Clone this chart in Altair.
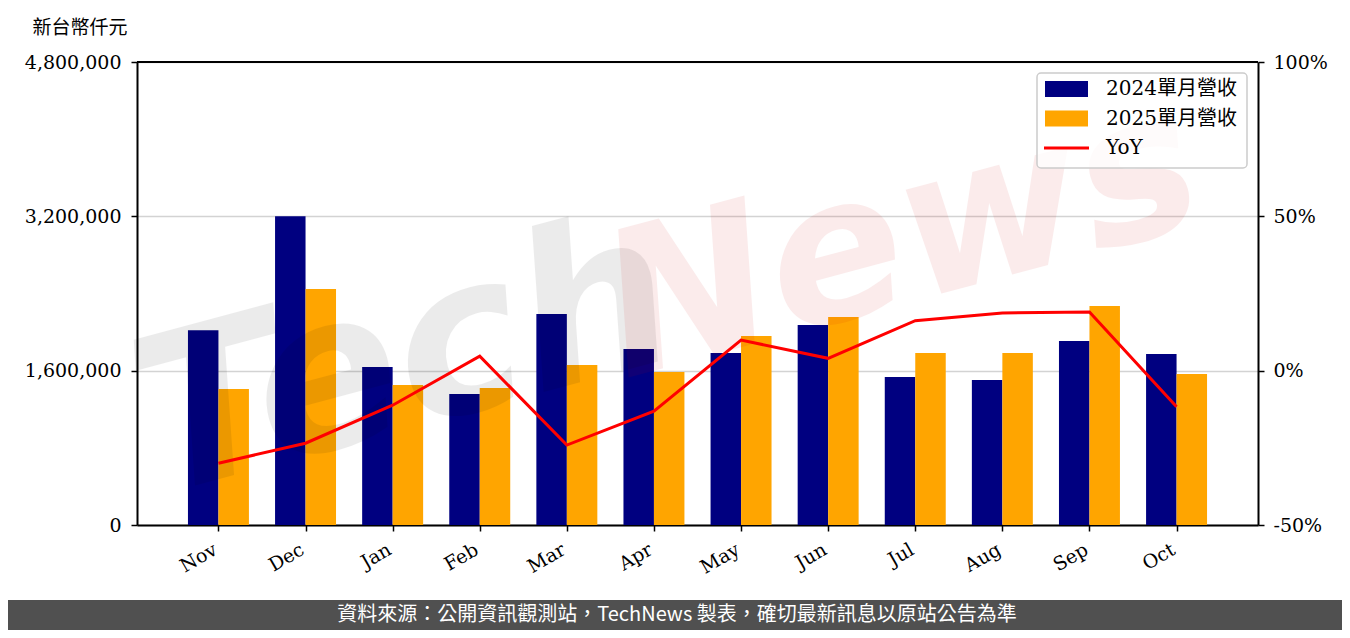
import json
import altair as alt
import pandas as pd

# ---------------- data ----------------
months = ["Nov", "Dec", "Jan", "Feb", "Mar", "Apr", "May", "Jun", "Jul", "Aug", "Sep", "Oct"]
rev_2024 = [2020000, 3200000, 1638000, 1358000, 2187000, 1825000,
            1783000, 2073000, 1534000, 1503000, 1908000, 1773000]
rev_2025 = [1410000, 2447000, 1451000, 1420000, 1659000, 1586000,
            1959000, 2156000, 1783000, 1783000, 2270000, 1565000]
yoy_pct = [-30.0, -23.5, -11.2, 4.7, -24.1, -13.1, 9.9, 4.0, 16.2, 18.7, 19.0, -11.7]
series_names = ["2024單月營收", "2025單月營收", "YoY"]
series_colors = ["#000080", "#FFA500", "#FF0000"]
left_ticks = [0, 1600000, 3200000, 4800000]
right_ticks = [-50, 0, 50, 100]
unit_title = "新台幣仟元"
footer_text = "資料來源：公開資訊觀測站，TechNews 製表，確切最新訊息以原站公告為準"
watermark_words = ["Tech", "News"]

# ---------------- tables ----------------
rows = []
for i, m in enumerate(months):
    rows.append({"idx": i, "month": m, "series": series_names[0], "value": rev_2024[i]})
    rows.append({"idx": i, "month": m, "series": series_names[1], "value": rev_2025[i]})
bar_df = pd.DataFrame(rows)
line_df = pd.DataFrame({"idx": list(range(len(months))), "month": months, "yoy": yoy_pct})
one = pd.DataFrame({"k": [0]})

W, H = 1121, 463
PAD_L, PAD_T = 129, 54
SVG_W, SVG_H = 1334, 622
SERIF = "DejaVu Serif, Noto Sans CJK TC"
CJK = "Noto Sans CJK TC"

x_scale = alt.Scale(domain=[-0.935, 11.935], nice=False, zero=False)
label_expr = json.dumps(months) + "[datum.value]"

x_axis = alt.Axis(values=list(range(len(months))), labelExpr=label_expr, labelAngle=330,
                  labelAlign="right", labelBaseline="top", labelPadding=9, labelOffset=-8,
                  labelFont=SERIF, labelFontSize=19, labelColor="black",
                  tickSize=6, tickColor="black", tickWidth=1.5, grid=False,
                  domainColor="black", domainWidth=2, title=None, labelOverlap=False)

left_axis = alt.Axis(values=left_ticks, format=",.0f", orient="left",
                     labelFont=SERIF, labelFontSize=19, labelColor="black", labelPadding=10,
                     tickSize=6, tickColor="black", tickWidth=1.5,
                     domainColor="black", domainWidth=2,
                     grid=True, gridColor="#d3d3d3", gridWidth=1.5,
                     title=unit_title, titleAngle=0, titleAlign="left", titleBaseline="middle",
                     titleX=-105, titleY=-35, titleFont=CJK, titleFontSize=19,
                     titleFontWeight="normal", titleColor="black", labelOverlap=False)

right_axis = alt.Axis(values=right_ticks, labelExpr="datum.value + '%'", orient="right",
                      labelFont=SERIF, labelFontSize=19, labelColor="black", labelPadding=9,
                      tickSize=6, tickColor="black", tickWidth=1.5,
                      domainColor="black", domainWidth=2, grid=False, title=None,
                      labelOverlap=False)

bars = alt.Chart(bar_df).transform_calculate(
    x0="datum.series == '%s' ? datum.idx - 0.35 : datum.idx" % series_names[0],
    x1="datum.series == '%s' ? datum.idx : datum.idx + 0.35" % series_names[0],
).mark_rect().encode(
    x=alt.X("x0:Q", scale=x_scale, axis=x_axis),
    x2="x1:Q",
    y=alt.Y("value:Q", scale=alt.Scale(domain=[0, 4800000], nice=False, padding=0), axis=left_axis),
    y2=alt.datum(0),
    color=alt.Color("series:N", scale=alt.Scale(domain=series_names[:2], range=series_colors[:2]),
                    legend=None),
    tooltip=["month", "series", "value"],
)

line = alt.Chart(line_df).mark_line(color=series_colors[2], strokeWidth=3).encode(
    x=alt.X("idx:Q", scale=x_scale, axis=x_axis),
    y=alt.Y("yoy:Q", scale=alt.Scale(domain=[-50, 100], nice=False, zero=False, padding=0),
            axis=right_axis),
)

# top frame line (matplotlib spine)
top_spine = alt.Chart(one).mark_rule(color="black", strokeWidth=2).encode(
    x=alt.value(0), x2=alt.value(W), y=alt.value(0))

# watermark
wm_tech = alt.Chart(one).mark_text(
    text=watermark_words[0], font="DejaVu Sans", fontSize=215, fontWeight="bold",
    fontStyle="italic", angle=345, color="#000000", opacity=0.075,
    align="center", baseline="middle",
).encode(x=alt.value(268), y=alt.value(300))
wm_news = alt.Chart(one).mark_text(
    text=watermark_words[1], font="DejaVu Sans", fontSize=200, fontWeight="bold",
    fontStyle="italic", angle=345, color="#d00000", opacity=0.075,
    align="center", baseline="middle",
).encode(x=alt.value(765), y=alt.value(180))

# legend (manual)
leg_box = alt.Chart(one).mark_rect(fill="white", fillOpacity=0.8, stroke="#cccccc",
                                   strokeWidth=1.5, cornerRadius=4).encode(
    x=alt.value(900), x2=alt.value(1110), y=alt.value(11), y2=alt.value(106))
leg_layers = [leg_box]
for i, (name, col) in enumerate(zip(series_names, series_colors)):
    yc = 27 + 29.5 * i
    if i < 2:
        leg_layers.append(alt.Chart(one).mark_rect(color=col).encode(
            x=alt.value(908), x2=alt.value(951), y=alt.value(yc - 8), y2=alt.value(yc + 8)))
    else:
        leg_layers.append(alt.Chart(one).mark_rule(color=col, strokeWidth=3).encode(
            x=alt.value(907), x2=alt.value(952), y=alt.value(yc)))
    leg_layers.append(alt.Chart(one).mark_text(
        text=name, font=SERIF, fontSize=20, color="black", align="left", baseline="middle"
    ).encode(x=alt.value(969), y=alt.value(yc)))

# footer band
footer_bg = alt.Chart(one).mark_rect(color="#505050").encode(
    x=alt.value(-PAD_L), x2=alt.value(SVG_W - PAD_L), y=alt.value(538), y2=alt.value(SVG_H - PAD_T))
footer_tx = alt.Chart(one).mark_text(
    text=footer_text, font=CJK, fontSize=20, color="white", align="center", baseline="middle"
).encode(x=alt.value(540), y=alt.value(553))

chart = alt.layer(
    bars, wm_tech, wm_news, line, top_spine, *leg_layers, footer_bg, footer_tx
).resolve_scale(y="independent").properties(
    width=W, height=H,
    autosize=alt.AutoSizeParams(type="none"),
    padding={"left": PAD_L, "top": PAD_T, "right": SVG_W - PAD_L - W, "bottom": SVG_H - PAD_T - H},
).configure_view(stroke="black", strokeWidth=2).configure(background="white")

chart.save("out.html", embed_options={"renderer": "svg", "actions": False})
